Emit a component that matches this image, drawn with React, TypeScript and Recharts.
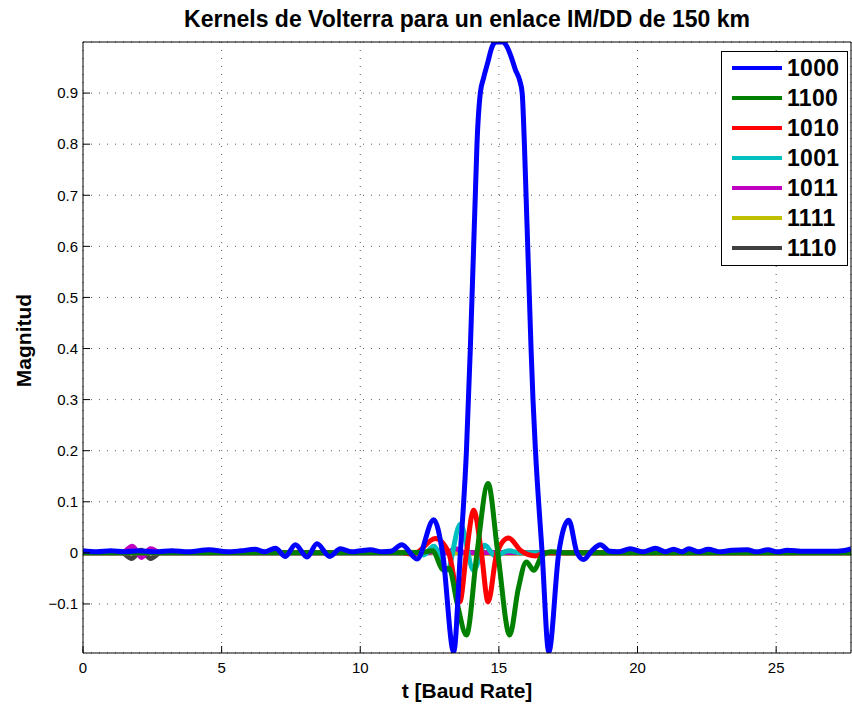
import React from "react";
import { LineChart, Line, XAxis, YAxis, CartesianGrid, Legend } from "recharts";

const FONT = '"Liberation Sans", Arial, Helvetica, sans-serif';

// ---- data (t in baud periods, value = magnitude) ----
const T_1000 = [0, 0.5, 1.0, 1.5, 2.0, 2.6, 3.2, 3.8, 4.55, 5.2, 5.7, 6.2, 6.55, 6.94, 7.3, 7.66, 8.08, 8.44, 8.9, 9.28, 9.7, 10.0, 10.36, 10.8, 11.1, 11.5, 12.05, 12.65, 12.97, 13.37, 13.61, 13.83, 13.97, 14.09, 14.15, 14.21, 14.33, 14.45, 14.6, 14.75, 14.9, 15.15, 15.3, 15.45, 15.6, 15.75, 15.84, 15.92, 15.98, 16.04, 16.1, 16.16, 16.23, 16.32, 16.56, 16.8, 17.16, 17.52, 17.82, 18.06, 18.35, 18.66, 19.0, 19.3, 19.74, 20.2, 20.65, 21.0, 21.3, 21.6, 21.85, 22.2, 22.55, 23.0, 23.4, 23.95, 24.3, 24.7, 25.05, 25.4, 26.0, 26.5, 27.0, 27.4, 27.7];
const V_1000 = [0.004, 0.002, 0.004, 0.002, 0.004, 0.002, 0.004, 0.002, 0.006, 0.002, 0.004, 0.007, 0.002, 0.009, -0.007, 0.016, -0.008, 0.018, -0.007, 0.008, 0.002, 0.004, 0.006, 0.002, 0.003, 0.016, -0.012, 0.065, 0.0, -0.194, 0.0, 0.2, 0.4, 0.6, 0.7, 0.8, 0.9, 0.93, 0.96, 0.99, 1.0, 1.0, 0.99, 0.97, 0.945, 0.925, 0.9, 0.8, 0.7, 0.6, 0.5, 0.4, 0.3, 0.2, 0.0, -0.194, 0.0, 0.064, 0.0, -0.013, 0.004, 0.016, 0.003, 0.002, 0.008, 0.002, 0.009, 0.002, 0.007, 0.002, 0.008, 0.002, 0.007, 0.002, 0.005, 0.006, 0.002, 0.006, 0.002, 0.005, 0.003, 0.003, 0.003, 0.004, 0.008];

const T_1100 = [0, 11.5, 12.2, 12.6, 13.01, 13.2, 13.5, 13.83, 14.21, 14.61, 14.96, 15.39, 15.7, 15.99, 16.26, 16.56, 16.9, 17.5, 27.7];
const V_1100 = [0, 0, 0.001, 0.004, -0.034, -0.03, -0.1, -0.161, 0.0, 0.136, 0.0, -0.161, -0.07, -0.018, -0.034, -0.005, 0.002, 0, 0];

const T_1010 = [0, 11.5, 11.9, 12.71, 13.19, 13.59, 13.83, 14.09, 14.37, 14.61, 14.93, 15.35, 15.8, 16.32, 16.7, 27.7];
const V_1010 = [0, 0, -0.003, 0.028, 0.0, -0.096, 0.0, 0.084, 0.0, -0.096, 0.0, 0.029, 0.004, -0.006, 0.0, 0];

const T_1001 = [0, 11.8, 12.29, 12.65, 13.13, 13.61, 14.09, 14.49, 14.87, 15.35, 15.8, 27.7];
const V_1001 = [0, 0, -0.004, 0.013, -0.034, 0.056, -0.034, 0.015, -0.006, 0.004, 0, 0];

const T_1011 = [0, 1.4, 1.78, 2.11, 2.44, 2.8, 12.4, 12.77, 13.1, 13.43, 13.8, 27.7];
const V_1011 = [0, 0, 0.013, -0.009, 0.008, 0, 0, 0.005, 0, 0.008, 0, 0];

const T_1111 = [0, 13.0, 14.0, 27.7];
const V_1111 = [0, 0.001, -0.001, 0];

const T_1110 = [0, 1.4, 1.75, 2.1, 2.44, 2.8, 27.7];
const V_1110 = [0, 0, -0.011, 0.005, -0.011, 0, 0];

const SERIES_NAMES = ["1000", "1100", "1010", "1001", "1011", "1111", "1110"];
const SERIES_COLORS = ["#0000ff", "#008000", "#ff0000", "#00bfbf", "#bf00bf", "#bfbf00", "#404040"];
const SERIES_T = [T_1000, T_1100, T_1010, T_1001, T_1011, T_1111, T_1110];
const SERIES_V = [V_1000, V_1100, V_1010, V_1001, V_1011, V_1111, V_1110];

const X_TICKS = [0, 5, 10, 15, 20, 25];
const Y_TICKS = [-0.1, 0, 0.1, 0.2, 0.3, 0.4, 0.5, 0.6, 0.7, 0.8, 0.9];
const X_DOMAIN: [number, number] = [0, 27.7];
const Y_DOMAIN: [number, number] = [-0.196, 1.0];

const TITLE = "Kernels de Volterra para un enlace IM/DD de 150 km";
const X_LABEL = "t [Baud Rate]";
const Y_LABEL = "Magnitud";

const zip = (t: number[], v: number[]) => t.map((x, i) => ({ t: x, v: v[i] }));

const fmtY = (v: number) => (v < 0 ? "\u2212" + String(Math.abs(v)) : String(v));

const LegendBox = () => (
  <div
    style={{
      width: 127,
      height: 215,
      boxSizing: "border-box",
      border: "1px solid #000",
      background: "#fff",
      paddingTop: 1,
      fontFamily: FONT,
      fontWeight: "bold",
      fontSize: 23,
      color: "#000",
    }}
  >
    {SERIES_NAMES.map((n, i) => (
      <div key={n} style={{ height: 30, display: "flex", alignItems: "center" }}>
        <div style={{ marginLeft: 10, width: 50, height: 4, background: SERIES_COLORS[i] }} />
        <span style={{ marginLeft: 5, lineHeight: "30px", letterSpacing: 0.3 }}>{n}</span>
      </div>
    ))}
  </div>
);

const TitleLabel = (props: any) => {
  const vb = props.viewBox || {};
  return (
    <text x={vb.x + vb.width / 2} y={vb.y + vb.height - 15} textAnchor="middle" fontFamily={FONT} fontWeight="bold" fontSize={23} fill="#000">
      {TITLE}
    </text>
  );
};

const XLabel = (props: any) => {
  const vb = props.viewBox || {};
  return (
    <text x={vb.x + vb.width / 2} y={vb.y + 45} textAnchor="middle" fontFamily={FONT} fontWeight="bold" fontSize={21} fill="#000">
      {X_LABEL}
    </text>
  );
};

const YLabel = (props: any) => {
  const vb = props.viewBox || {};
  const cx = 31;
  const cy = vb.y + vb.height / 2 - 7;
  return (
    <text x={cx} y={cy} textAnchor="middle" transform={`rotate(-90, ${cx}, ${cy})`} fontFamily={FONT} fontWeight="bold" fontSize={21} fill="#000">
      {Y_LABEL}
    </text>
  );
};

export default function App() {
  const order = [6, 5, 4, 3, 2, 1, 0];
  return (
    <div style={{ position: "absolute", left: 0, top: 0, width: 852, height: 709, background: "#fff" }}>
      <LineChart width={852} height={709} margin={{ top: 41, right: 0, bottom: 26, left: 23 }}>
        <CartesianGrid stroke="#555" strokeDasharray="1 7" vertical horizontal />
        <XAxis
          dataKey="t"
          type="number"
          domain={X_DOMAIN}
          ticks={X_TICKS}
          allowDataOverflow
          height={30}
          tickSize={-7}
          tickMargin={16}
          stroke="#000"
          tick={{ fill: "#000", fontSize: 15, fontFamily: FONT }}
          label={<XLabel />}
        />
        <XAxis
          xAxisId="top"
          dataKey="t"
          orientation="top"
          type="number"
          domain={X_DOMAIN}
          ticks={X_TICKS}
          allowDataOverflow
          height={1}
          tickSize={-7}
          tick={false}
          stroke="#000"
          label={<TitleLabel />}
        />
        <YAxis
          type="number"
          domain={Y_DOMAIN}
          ticks={Y_TICKS}
          allowDataOverflow
          width={60}
          tickSize={-7}
          tickMargin={12}
          stroke="#000"
          tickFormatter={fmtY}
          tick={{ fill: "#000", fontSize: 15, fontFamily: FONT }}
          label={<YLabel />}
        />
        <YAxis
          yAxisId="right"
          orientation="right"
          type="number"
          domain={Y_DOMAIN}
          ticks={Y_TICKS}
          allowDataOverflow
          width={1}
          tickSize={-7}
          tick={false}
          stroke="#000"
        />
        {order.map((i) => (
          <Line
            key={SERIES_NAMES[i]}
            name={SERIES_NAMES[i]}
            data={zip(SERIES_T[i], SERIES_V[i])}
            dataKey="v"
            xAxisId={i === 5 ? "top" : 0}
            yAxisId={i === 5 ? "right" : 0}
            type="monotone"
            stroke={SERIES_COLORS[i]}
            strokeWidth={5}
            dot={false}
            activeDot={false}
            isAnimationActive={false}
          />
        ))}
        <Legend
          layout="horizontal"
          verticalAlign="middle"
          align="center"
          wrapperStyle={{ position: "absolute", left: 721, top: 51, width: 127, height: 215 }}
          content={() => <LegendBox />}
        />
      </LineChart>
    </div>
  );
}
